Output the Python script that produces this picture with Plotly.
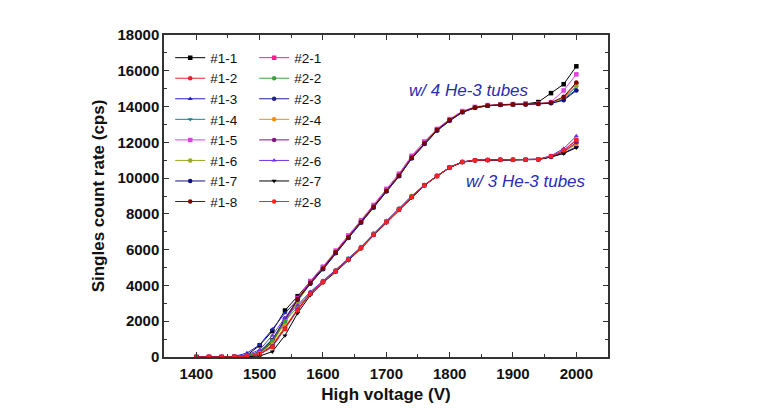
import plotly.graph_objects as go

voltage = [1400, 1420, 1440, 1460, 1480, 1500, 1520, 1540, 1560, 1580, 1600,
           1620, 1640, 1660, 1680, 1700, 1720, 1740, 1760, 1780, 1800, 1820,
           1840, 1860, 1880, 1900, 1920, 1940, 1960, 1980, 2000]

# 4 He-3 tube group
s1_1 = [0, 0, 0, 10, 100, 650, 1450, 2600, 3400, 4200, 5000, 5850, 6700, 7550, 8400, 9300, 10150, 11150, 11950, 12700, 13250, 13700, 13950, 14050, 14100, 14130, 14150, 14250, 14750, 15250, 16250]
s1_2 = [0, 0, 0, 10, 60, 250, 900, 2100, 3250, 4150, 4950, 5850, 6700, 7550, 8400, 9300, 10150, 11150, 11950, 12700, 13250, 13700, 13950, 14050, 14100, 14120, 14130, 14150, 14200, 14500, 15300]
s1_3 = [0, 0, 0, 30, 220, 680, 1550, 2450, 3200, 4100, 4900, 5800, 6650, 7500, 8350, 9250, 10100, 11100, 11900, 12650, 13200, 13680, 13930, 14040, 14090, 14110, 14120, 14140, 14180, 14400, 14950]
s1_4 = [0, 0, 0, 10, 80, 300, 1000, 2000, 3150, 4100, 4950, 5850, 6700, 7550, 8400, 9300, 10150, 11150, 11950, 12700, 13250, 13700, 13950, 14050, 14100, 14120, 14130, 14150, 14200, 14450, 15100]
s1_5 = [0, 0, 0, 10, 60, 250, 850, 2000, 3300, 4250, 5050, 5950, 6800, 7650, 8500, 9400, 10250, 11250, 12050, 12750, 13300, 13750, 13980, 14080, 14120, 14140, 14150, 14170, 14250, 14900, 15800]
s1_6 = [0, 0, 0, 10, 50, 200, 800, 1900, 3100, 4100, 4950, 5850, 6700, 7550, 8400, 9300, 10150, 11150, 11950, 12700, 13250, 13700, 13950, 14050, 14100, 14120, 14130, 14150, 14200, 14450, 15150]
s1_7 = [0, 0, 0, 10, 70, 280, 950, 2150, 3200, 4100, 4900, 5800, 6650, 7500, 8350, 9250, 10100, 11100, 11900, 12650, 13200, 13680, 13930, 14040, 14090, 14110, 14120, 14140, 14180, 14350, 14900]
s1_8 = [0, 0, 0, 10, 60, 220, 850, 2050, 3250, 4150, 4950, 5850, 6700, 7550, 8400, 9300, 10150, 11150, 11950, 12700, 13250, 13700, 13950, 14050, 14100, 14120, 14130, 14150, 14220, 14550, 15350]

# 3 He-3 tube group
s2_1 = [0, 0, 0, 10, 50, 150, 600, 1600, 2650, 3550, 4200, 4800, 5450, 6100, 6850, 7550, 8250, 8950, 9600, 10120, 10600, 10900, 11000, 11010, 11020, 11020, 11030, 11050, 11220, 11550, 12100]
s2_2 = [0, 0, 0, 10, 80, 250, 900, 2000, 2800, 3600, 4250, 4850, 5500, 6150, 6900, 7600, 8300, 9000, 9620, 10130, 10600, 10900, 11000, 11010, 11020, 11020, 11030, 11050, 11200, 11450, 11950]
s2_3 = [0, 0, 0, 10, 50, 150, 650, 1650, 2650, 3550, 4200, 4800, 5450, 6100, 6850, 7550, 8250, 8950, 9600, 10120, 10600, 10900, 11000, 11010, 11020, 11020, 11030, 11040, 11180, 11400, 11750]
s2_4 = [0, 0, 0, 10, 50, 180, 700, 1700, 2700, 3580, 4220, 4820, 5470, 6120, 6870, 7570, 8270, 8970, 9610, 10120, 10600, 10900, 11000, 11010, 11020, 11020, 11030, 11050, 11200, 11450, 11900]
s2_5 = [0, 0, 0, 10, 50, 150, 600, 1600, 2650, 3550, 4200, 4800, 5450, 6100, 6850, 7550, 8250, 8950, 9600, 10120, 10600, 10900, 11000, 11010, 11020, 11020, 11030, 11050, 11200, 11480, 12000]
s2_6 = [0, 0, 0, 20, 120, 400, 1200, 2200, 2900, 3650, 4250, 4850, 5500, 6150, 6900, 7600, 8300, 9000, 9620, 10130, 10600, 10900, 11000, 11010, 11020, 11030, 11040, 11060, 11250, 11650, 12350]
s2_7 = [0, 0, 0, 5, 20, 50, 300, 1200, 2450, 3450, 4150, 4750, 5400, 6050, 6800, 7500, 8200, 8900, 9580, 10100, 10580, 10890, 10990, 11000, 11010, 11020, 11030, 11040, 11180, 11380, 11700]
s2_8 = [0, 0, 0, 10, 50, 150, 550, 1550, 2600, 3520, 4180, 4780, 5430, 6080, 6830, 7530, 8230, 8940, 9590, 10110, 10590, 10900, 11000, 11010, 11020, 11020, 11030, 11050, 11220, 11550, 12150]

series_names = ["#1-1", "#1-2", "#1-3", "#1-4", "#1-5", "#1-6", "#1-7", "#1-8",
                "#2-1", "#2-2", "#2-3", "#2-4", "#2-5", "#2-6", "#2-7", "#2-8"]
series_values = [s1_1, s1_2, s1_3, s1_4, s1_5, s1_6, s1_7, s1_8,
                 s2_1, s2_2, s2_3, s2_4, s2_5, s2_6, s2_7, s2_8]
colors = ["#000000", "#e8202a", "#2020d0", "#108888", "#e040e0", "#9aaa20", "#101080", "#800000",
          "#f0208a", "#40a040", "#202090", "#f08c10", "#801880", "#7030e0", "#000000", "#ff2020"]
symbols = ["square", "circle", "triangle-up", "triangle-down", "square", "circle", "circle", "circle",
           "square", "circle", "circle", "circle", "circle", "triangle-up", "triangle-down", "circle"]

FONT = "Liberation Sans, Arial, sans-serif"

fig = go.Figure()
for i, (name, vals) in enumerate(zip(series_names, series_values)):
    fig.add_trace(go.Scatter(
        x=voltage, y=vals, name=name, mode="lines+markers",
        line=dict(color=colors[i], width=1),
        marker=dict(color=colors[i], symbol=symbols[i], size=4.5),
        legend="legend" if i < 8 else "legend2",
    ))

legend_common = dict(
    xanchor="left", yanchor="top", y=0.977,
    bgcolor="rgba(0,0,0,0)", borderwidth=0,
    font=dict(family=FONT, size=13.5, color="#111"),
    tracegroupgap=0, itemwidth=30,
)

fig.update_layout(
    width=761, height=418,
    margin=dict(l=156, r=161, t=27, b=69),
    paper_bgcolor="white", plot_bgcolor="white",
    font=dict(family=FONT, color="#111"),
    legend=dict(x=0.014, **legend_common),
    legend2=dict(x=0.203, **legend_common),
    xaxis=dict(
        range=[1349, 2050], dtick=100, tick0=1400,
        ticks="inside", ticklen=5, tickwidth=1.2, tickcolor="#333",
        showline=True, linecolor="#333", linewidth=1.5, mirror="ticks",
        showgrid=False, zeroline=False, ticklabelstandoff=2,
        tickfont=dict(size=15, family=FONT, weight="bold"),
        minor=dict(ticks="inside", dtick=50, ticklen=3, tickcolor="#333", showgrid=False),
        title=dict(text="<b>High voltage (V)</b>", font=dict(size=17), standoff=7),
    ),
    yaxis=dict(
        range=[0, 18000], dtick=2000, tickformat="d",
        ticks="inside", ticklen=5, tickwidth=1.2, tickcolor="#333",
        showline=True, linecolor="#333", linewidth=1.5, mirror="ticks",
        showgrid=False, zeroline=False,
        tickfont=dict(size=15, family=FONT, weight="bold"),
        minor=dict(ticks="inside", dtick=1000, ticklen=3, tickcolor="#333", showgrid=False),
        title=dict(text="<b>Singles count rate (cps)</b>", font=dict(size=17), standoff=9),
    ),
    annotations=[
        dict(x=1831, y=14925, xref="x", yref="y", text="<i>w/ 4 He-3 tubes</i>",
             showarrow=False, font=dict(size=17, color="#2a2ab4", family=FONT)),
        dict(x=1921, y=9783, xref="x", yref="y", text="<i>w/ 3 He-3 tubes</i>",
             showarrow=False, font=dict(size=17, color="#2a2ab4", family=FONT)),
    ],
)

fig.write_html("out.html")
